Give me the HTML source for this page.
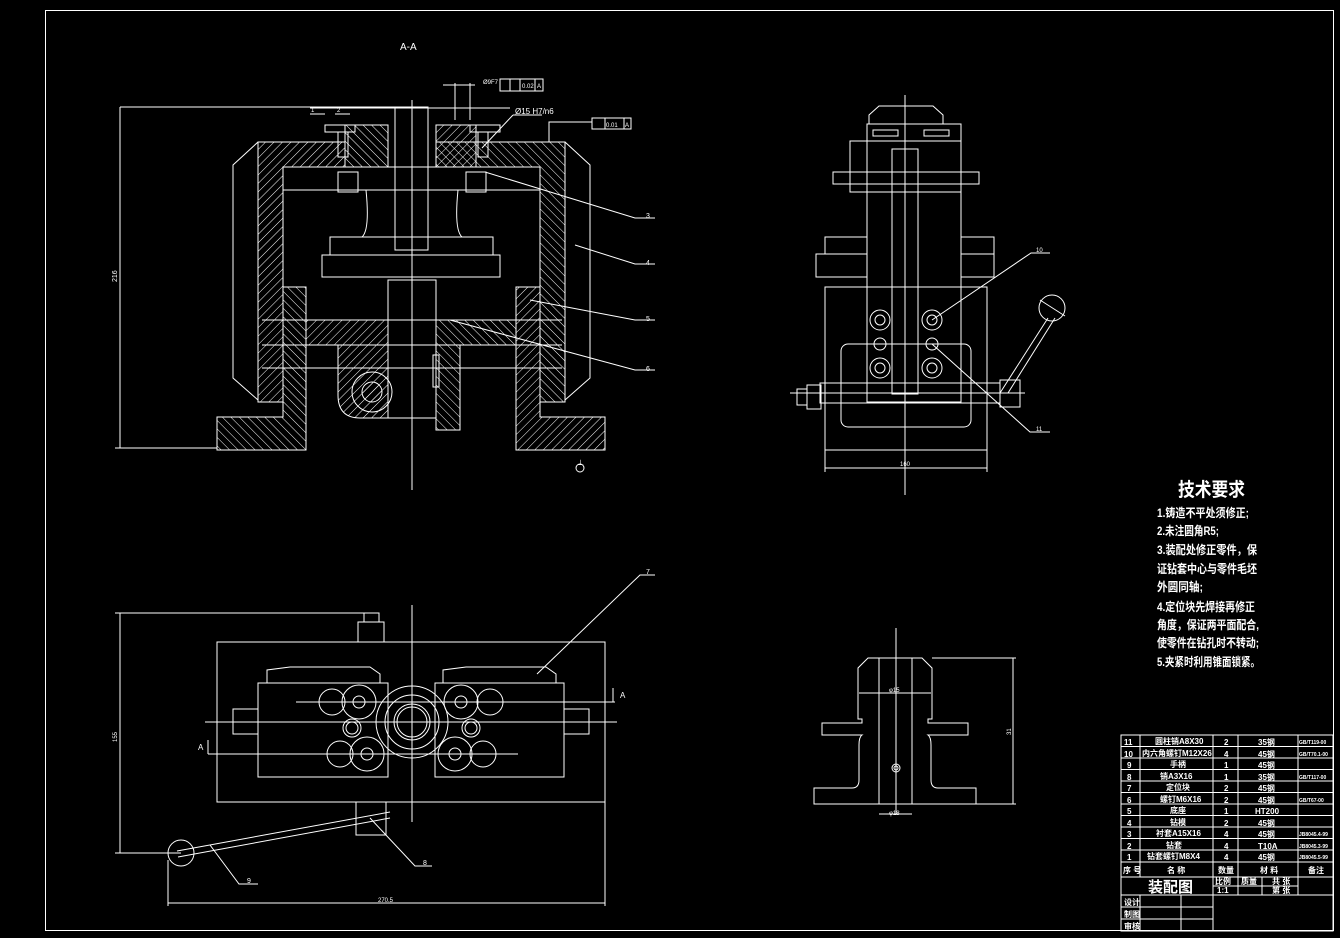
<!DOCTYPE html>
<html><head><meta charset="utf-8"><style>
html,body{margin:0;padding:0;background:#000;}
svg{display:block;}
text{fill:#fff;font-family:"Liberation Sans","Noto Sans CJK SC",sans-serif;}
</style></head><body>
<svg width="1340" height="938" viewBox="0 0 1340 938" xmlns="http://www.w3.org/2000/svg">
<defs>
<pattern id="h" width="6" height="6" patternUnits="userSpaceOnUse" patternTransform="rotate(45)">
<line x1="0" y1="0" x2="0" y2="6" stroke="#fff" stroke-width="1"/></pattern>
<pattern id="h2" width="6" height="6" patternUnits="userSpaceOnUse" patternTransform="rotate(-45)">
<line x1="0" y1="0" x2="0" y2="6" stroke="#fff" stroke-width="1"/></pattern>
</defs>
<g fill="none" stroke="#fff" stroke-width="1">
<rect x="45.5" y="10.5" width="1288" height="920"/>

<g fill="url(#h)">
<path d="M258,142 H345 V167 H283 V402 H258 Z"/>
<path d="M565,142 H436 V167 H540 V402 H565 Z" fill="url(#h2)"/>
<rect x="345" y="125" width="43" height="42" fill="url(#h2)"/>
<rect x="436" y="125" width="40" height="42"/>
<path d="M283,287 H306 V450 H217 V417 H283 Z" fill="url(#h2)"/>
<path d="M540,287 H516 V450 H605 V417 H540 Z"/>
<path d="M306,320 H388 V418 H360 Q338,418 338,395 V345 H306 Z"/>
<path d="M516,320 H436 V430 H460 V345 H516 Z" fill="url(#h2)"/>
</g>
<polyline points="258,142 233,165 233,378 258,400"/>
<polyline points="565,142 590,165 590,378 565,400"/>
<rect x="283" y="167" width="257" height="23"/>
<path d="M366,190 Q370,230 362,237 M458,190 Q454,230 462,237"/>
<rect x="330" y="237" width="163" height="18"/>
<rect x="322" y="255" width="178" height="22"/>
<rect x="395" y="107" width="33" height="143"/>
<rect x="388" y="280" width="48" height="138"/>
<rect x="338" y="172" width="20" height="20"/>
<rect x="466" y="172" width="20" height="20"/>
<rect x="325" y="125" width="30" height="7"/><rect x="338" y="132" width="10" height="25"/>
<rect x="470" y="125" width="30" height="7"/><rect x="478" y="132" width="10" height="25"/>
<circle cx="372" cy="392" r="20"/><circle cx="372" cy="392" r="10" fill="url(#h)"/>
<line x1="412" y1="100" x2="412" y2="490"/>
<line x1="262" y1="320" x2="562" y2="320"/><line x1="262" y1="345" x2="562" y2="345"/>
<line x1="262" y1="368" x2="562" y2="368"/>
<rect x="433" y="355" width="6" height="32"/>
<line x1="120" y1="107" x2="395" y2="107"/><line x1="115" y1="448" x2="217" y2="448"/>
<line x1="120" y1="107" x2="120" y2="448"/>
<text x="0" y="0" font-size="7" stroke="none" transform="translate(117,282) rotate(-90)">216</text>
<text x="400" y="50" font-size="10" stroke="none">A-A</text>
<rect x="500" y="79" width="43" height="12"/><line x1="510" y1="79" x2="510" y2="91"/><line x1="520" y1="79" x2="520" y2="91"/><line x1="535" y1="79" x2="535" y2="91"/>
<text x="522" y="88" font-size="6" stroke="none">0.02</text><text x="537" y="88" font-size="6" stroke="none">A</text>
<line x1="443" y1="85" x2="475" y2="85"/><text x="483" y="84" font-size="6" stroke="none">Ø9F7</text>
<line x1="455" y1="83" x2="455" y2="120"/><line x1="470" y1="83" x2="470" y2="120"/>
<text x="515" y="114" font-size="8" stroke="none">Ø15 H7/n6</text><line x1="513" y1="115" x2="542" y2="115"/><line x1="513" y1="115" x2="482" y2="148"/>
<rect x="592" y="118" width="39" height="11"/><line x1="605" y1="118" x2="605" y2="129"/><line x1="624" y1="118" x2="624" y2="129"/>
<text x="606" y="127" font-size="6" stroke="none">0.01</text><text x="625" y="127" font-size="6" stroke="none">A</text>
<polyline points="592,122 549,122 549,142"/>
<line x1="310" y1="114" x2="325" y2="114"/><line x1="335" y1="114" x2="350" y2="114"/>
<line x1="310" y1="108" x2="510" y2="108"/>
<text x="311" y="112" font-size="6" stroke="none">1</text><text x="337" y="112" font-size="6" stroke="none">2</text>
<polyline points="485,172 635,218 655,218"/><text x="646" y="218" font-size="7" stroke="none">3</text>
<polyline points="575,245 635,264 655,264"/><text x="646" y="265" font-size="7" stroke="none">4</text>
<polyline points="530,300 635,320 655,320"/><text x="646" y="321" font-size="7" stroke="none">5</text>
<polyline points="450,320 635,370 655,370"/><text x="646" y="371" font-size="7" stroke="none">6</text>
<text x="577" y="465" font-size="7" stroke="none">⊥</text><circle cx="580" cy="468" r="4"/>

<polygon points="869,115 879,106 933,106 943,115 943,124 869,124"/>
<rect x="867" y="124" width="94" height="278"/>
<rect x="850" y="141" width="111" height="51"/>
<rect x="833" y="172" width="146" height="12"/>
<rect x="892" y="149" width="26" height="245"/>
<line x1="905" y1="95" x2="905" y2="495"/>
<rect x="873" y="130" width="25" height="6"/><rect x="924" y="130" width="25" height="6"/>
<rect x="825" y="237" width="42" height="17"/><rect x="816" y="254" width="51" height="23"/>
<rect x="961" y="237" width="33" height="17"/><rect x="961" y="254" width="33" height="23"/>
<rect x="825" y="287" width="162" height="163"/>
<rect x="841" y="344" width="130" height="83" rx="7"/>
<circle cx="880" cy="320" r="10"/><circle cx="880" cy="320" r="5"/>
<circle cx="932" cy="320" r="10"/><circle cx="932" cy="320" r="5"/>
<circle cx="880" cy="344" r="6"/><circle cx="932" cy="344" r="6"/>
<circle cx="880" cy="368" r="10"/><circle cx="880" cy="368" r="5"/>
<circle cx="932" cy="368" r="10"/><circle cx="932" cy="368" r="5"/>
<rect x="820" y="383" width="180" height="20"/>
<rect x="797" y="389" width="10" height="16"/><rect x="807" y="385" width="14" height="24"/>
<rect x="1000" y="380" width="20" height="27"/>
<line x1="790" y1="393" x2="1025" y2="393"/>
<line x1="1000" y1="393" x2="1048" y2="318"/><line x1="1008" y1="393" x2="1055" y2="318"/>
<circle cx="1052" cy="308" r="13"/><line x1="1040" y1="300" x2="1065" y2="316"/>
<line x1="825" y1="468" x2="987" y2="468"/><line x1="825" y1="450" x2="825" y2="472"/><line x1="987" y1="450" x2="987" y2="472"/>
<text x="900" y="466" font-size="6" stroke="none">160</text>
<polyline points="932,320 1031,253 1050,253"/><text x="1036" y="252" font-size="6" stroke="none">10</text>
<polyline points="932,344 1030,432 1050,432"/><text x="1036" y="431" font-size="6" stroke="none">11</text>

<rect x="217" y="642" width="388" height="160"/>
<polygon points="267,683 267,670 290,667 370,667 380,674 380,683"/>
<rect x="258" y="683" width="130" height="94"/>
<polygon points="443,683 443,670 466,667 546,667 556,674 556,683"/>
<rect x="435" y="683" width="129" height="94"/>
<rect x="233" y="709" width="25" height="25"/><rect x="564" y="709" width="25" height="25"/>
<rect x="358" y="622" width="26" height="20"/><rect x="364" y="613" width="15" height="9"/>
<line x1="115" y1="613" x2="364" y2="613"/>
<rect x="356" y="802" width="30" height="33"/>
<circle cx="412" cy="722" r="36"/><circle cx="412" cy="722" r="27"/><circle cx="412" cy="722" r="18"/><circle cx="412" cy="722" r="15"/>
<circle cx="359" cy="702" r="17"/><circle cx="359" cy="702" r="6"/><circle cx="332" cy="702" r="13"/>
<circle cx="367" cy="754" r="17"/><circle cx="367" cy="754" r="6"/><circle cx="340" cy="754" r="13"/>
<circle cx="352" cy="728" r="9"/><circle cx="352" cy="728" r="6"/>
<circle cx="461" cy="702" r="17"/><circle cx="461" cy="702" r="6"/><circle cx="490" cy="702" r="13"/>
<circle cx="455" cy="754" r="17"/><circle cx="455" cy="754" r="6"/><circle cx="483" cy="754" r="13"/>
<circle cx="471" cy="728" r="9"/><circle cx="471" cy="728" r="6"/>
<line x1="412" y1="605" x2="412" y2="822"/>
<line x1="205" y1="722" x2="617" y2="722"/>
<line x1="296" y1="702" x2="615" y2="702"/><line x1="613" y1="702" x2="613" y2="688"/>
<line x1="208" y1="754" x2="518" y2="754"/><line x1="208" y1="754" x2="208" y2="740"/>
<text x="620" y="698" font-size="8" stroke="none">A</text><text x="198" y="750" font-size="8" stroke="none">A</text>
<line x1="177" y1="851" x2="390" y2="812"/><line x1="178" y1="857" x2="390" y2="818"/>
<circle cx="181" cy="853" r="13"/>
<line x1="120" y1="613" x2="120" y2="853"/><line x1="115" y1="853" x2="181" y2="853"/>
<text x="0" y="0" font-size="6" stroke="none" transform="translate(117,742) rotate(-90)">155</text>
<line x1="168" y1="903" x2="605" y2="903"/><line x1="168" y1="860" x2="168" y2="906"/><line x1="605" y1="802" x2="605" y2="906"/>
<text x="378" y="902" font-size="6" stroke="none">270.5</text>
<polyline points="537,674 640,575 655,575"/><text x="646" y="574" font-size="7" stroke="none">7</text>
<polyline points="370,818 415,866 432,866"/><text x="423" y="865" font-size="7" stroke="none">8</text>
<polyline points="210,845 239,884 258,884"/><text x="247" y="883" font-size="7" stroke="none">9</text>

<path d="M858,719 V668 L868,658 H922 L932,668 V719 H928 V723 H968 V735 H928 Q931,737 931,745 V780 Q931,788 938,788 H976 V804 H814 V788 H852 Q859,788 859,780 V745 Q859,737 862,735 H822 V723 H862 V719 Z"/>
<line x1="879" y1="658" x2="879" y2="804"/><line x1="912" y1="658" x2="912" y2="804"/>
<line x1="896" y1="628" x2="896" y2="815"/>
<circle cx="896" cy="768" r="4"/><circle cx="896" cy="768" r="2"/>
<line x1="859" y1="693" x2="931" y2="693"/><text x="889" y="692" font-size="6" stroke="none">φ15</text>
<line x1="879" y1="814" x2="912" y2="814"/><text x="889" y="815" font-size="6" stroke="none">φ18</text>
<line x1="932" y1="658" x2="1016" y2="658"/><line x1="976" y1="804" x2="1016" y2="804"/>
<line x1="1013" y1="658" x2="1013" y2="804"/>
<text x="0" y="0" font-size="6" stroke="none" transform="translate(1011,735) rotate(-90)">31</text>

<rect x="1121" y="735" width="212" height="196"/>
<g>
<line x1="1140" y1="735" x2="1140" y2="877"/><line x1="1213" y1="735" x2="1213" y2="931"/>
<line x1="1238" y1="735" x2="1238" y2="877"/><line x1="1298" y1="735" x2="1298" y2="895"/>
<line x1="1238" y1="877" x2="1238" y2="895"/><line x1="1262" y1="877" x2="1262" y2="895"/>
<line x1="1121" y1="877" x2="1333" y2="877"/><line x1="1121" y1="862" x2="1333" y2="862"/>
<line x1="1213" y1="886" x2="1298" y2="886"/>
<line x1="1121" y1="895" x2="1333" y2="895"/>
<line x1="1121" y1="907" x2="1213" y2="907"/><line x1="1121" y1="919" x2="1213" y2="919"/>
<line x1="1140" y1="895" x2="1140" y2="931"/><line x1="1181" y1="895" x2="1181" y2="931"/>
</g>
<g>
<line x1="1121" y1="746.5" x2="1333" y2="746.5"/><line x1="1121" y1="758" x2="1333" y2="758"/>
<line x1="1121" y1="769.5" x2="1333" y2="769.5"/><line x1="1121" y1="781" x2="1333" y2="781"/>
<line x1="1121" y1="792.5" x2="1333" y2="792.5"/><line x1="1121" y1="804" x2="1333" y2="804"/>
<line x1="1121" y1="815.5" x2="1333" y2="815.5"/><line x1="1121" y1="827" x2="1333" y2="827"/>
<line x1="1121" y1="838.5" x2="1333" y2="838.5"/><line x1="1121" y1="850" x2="1333" y2="850"/>
</g>
</g>
<g font-size="8" font-weight="bold">
<text x="1124" y="745">11</text><text x="1155" y="744">圆柱销A8X30</text><text x="1224" y="745">2</text><text x="1258" y="745">35钢</text><text x="1299" y="744" font-size="5">GB/T119-00</text>
<text x="1124" y="757">10</text><text x="1142" y="756">内六角螺钉M12X26</text><text x="1224" y="757">4</text><text x="1258" y="757">45钢</text><text x="1299" y="756" font-size="5">GB/T70.1-00</text>
<text x="1127" y="768">9</text><text x="1170" y="767">手柄</text><text x="1224" y="768">1</text><text x="1258" y="768">45钢</text>
<text x="1127" y="780">8</text><text x="1160" y="779">销A3X16</text><text x="1224" y="780">1</text><text x="1258" y="780">35钢</text><text x="1299" y="779" font-size="5">GB/T117-00</text>
<text x="1127" y="791">7</text><text x="1166" y="790">定位块</text><text x="1224" y="791">2</text><text x="1258" y="791">45钢</text>
<text x="1127" y="803">6</text><text x="1160" y="802">螺钉M6X16</text><text x="1224" y="803">2</text><text x="1258" y="803">45钢</text><text x="1299" y="802" font-size="5">GB/T67-00</text>
<text x="1127" y="814">5</text><text x="1170" y="813">底座</text><text x="1224" y="814">1</text><text x="1255" y="814">HT200</text>
<text x="1127" y="826">4</text><text x="1170" y="825">钻模</text><text x="1224" y="826">2</text><text x="1258" y="826">45钢</text>
<text x="1127" y="837">3</text><text x="1156" y="836">衬套A15X16</text><text x="1224" y="837">4</text><text x="1258" y="837">45钢</text><text x="1299" y="836" font-size="5">JB8045.4-99</text>
<text x="1127" y="849">2</text><text x="1166" y="848">钻套</text><text x="1224" y="849">4</text><text x="1258" y="849">T10A</text><text x="1299" y="848" font-size="5">JB8045.3-99</text>
<text x="1127" y="860">1</text><text x="1147" y="859">钻套螺钉M8X4</text><text x="1224" y="860">4</text><text x="1258" y="860">45钢</text><text x="1299" y="859" font-size="5">JB8045.5-99</text>
<text x="1123" y="873">序 号</text><text x="1167" y="873">名 称</text><text x="1218" y="873">数量</text><text x="1260" y="873">材 料</text><text x="1308" y="873">备注</text>
<text x="1215" y="884">比例</text><text x="1241" y="884">质量</text><text x="1272" y="884">共 张</text>
<text x="1217" y="893">1:1</text><text x="1272" y="893">第 张</text>
<text x="1124" y="905">设计</text><text x="1124" y="917">制图</text><text x="1124" y="929">审核</text>
</g>
<text x="1148" y="892" font-size="15" font-weight="bold">装配图</text>

<text x="1178" y="496" font-size="19" font-weight="bold" textLength="67" lengthAdjust="spacingAndGlyphs">技术要求</text>
<g font-size="12" font-weight="bold">
<text x="1157" y="517" textLength="92" lengthAdjust="spacingAndGlyphs">1.铸造不平处须修正;</text>
<text x="1157" y="535" textLength="62" lengthAdjust="spacingAndGlyphs">2.未注圆角R5;</text>
<text x="1157" y="554" textLength="100" lengthAdjust="spacingAndGlyphs">3.装配处修正零件，保</text>
<text x="1157" y="573" textLength="100" lengthAdjust="spacingAndGlyphs">证钻套中心与零件毛坯</text>
<text x="1157" y="591" textLength="46" lengthAdjust="spacingAndGlyphs">外圆同轴;</text>
<text x="1157" y="611" textLength="98" lengthAdjust="spacingAndGlyphs">4.定位块先焊接再修正</text>
<text x="1157" y="629" textLength="102" lengthAdjust="spacingAndGlyphs">角度，保证两平面配合,</text>
<text x="1157" y="647" textLength="102" lengthAdjust="spacingAndGlyphs">使零件在钻孔时不转动;</text>
<text x="1157" y="666" textLength="103" lengthAdjust="spacingAndGlyphs">5.夹紧时利用锥面锁紧。</text>
</g>
</svg>
</body></html>
